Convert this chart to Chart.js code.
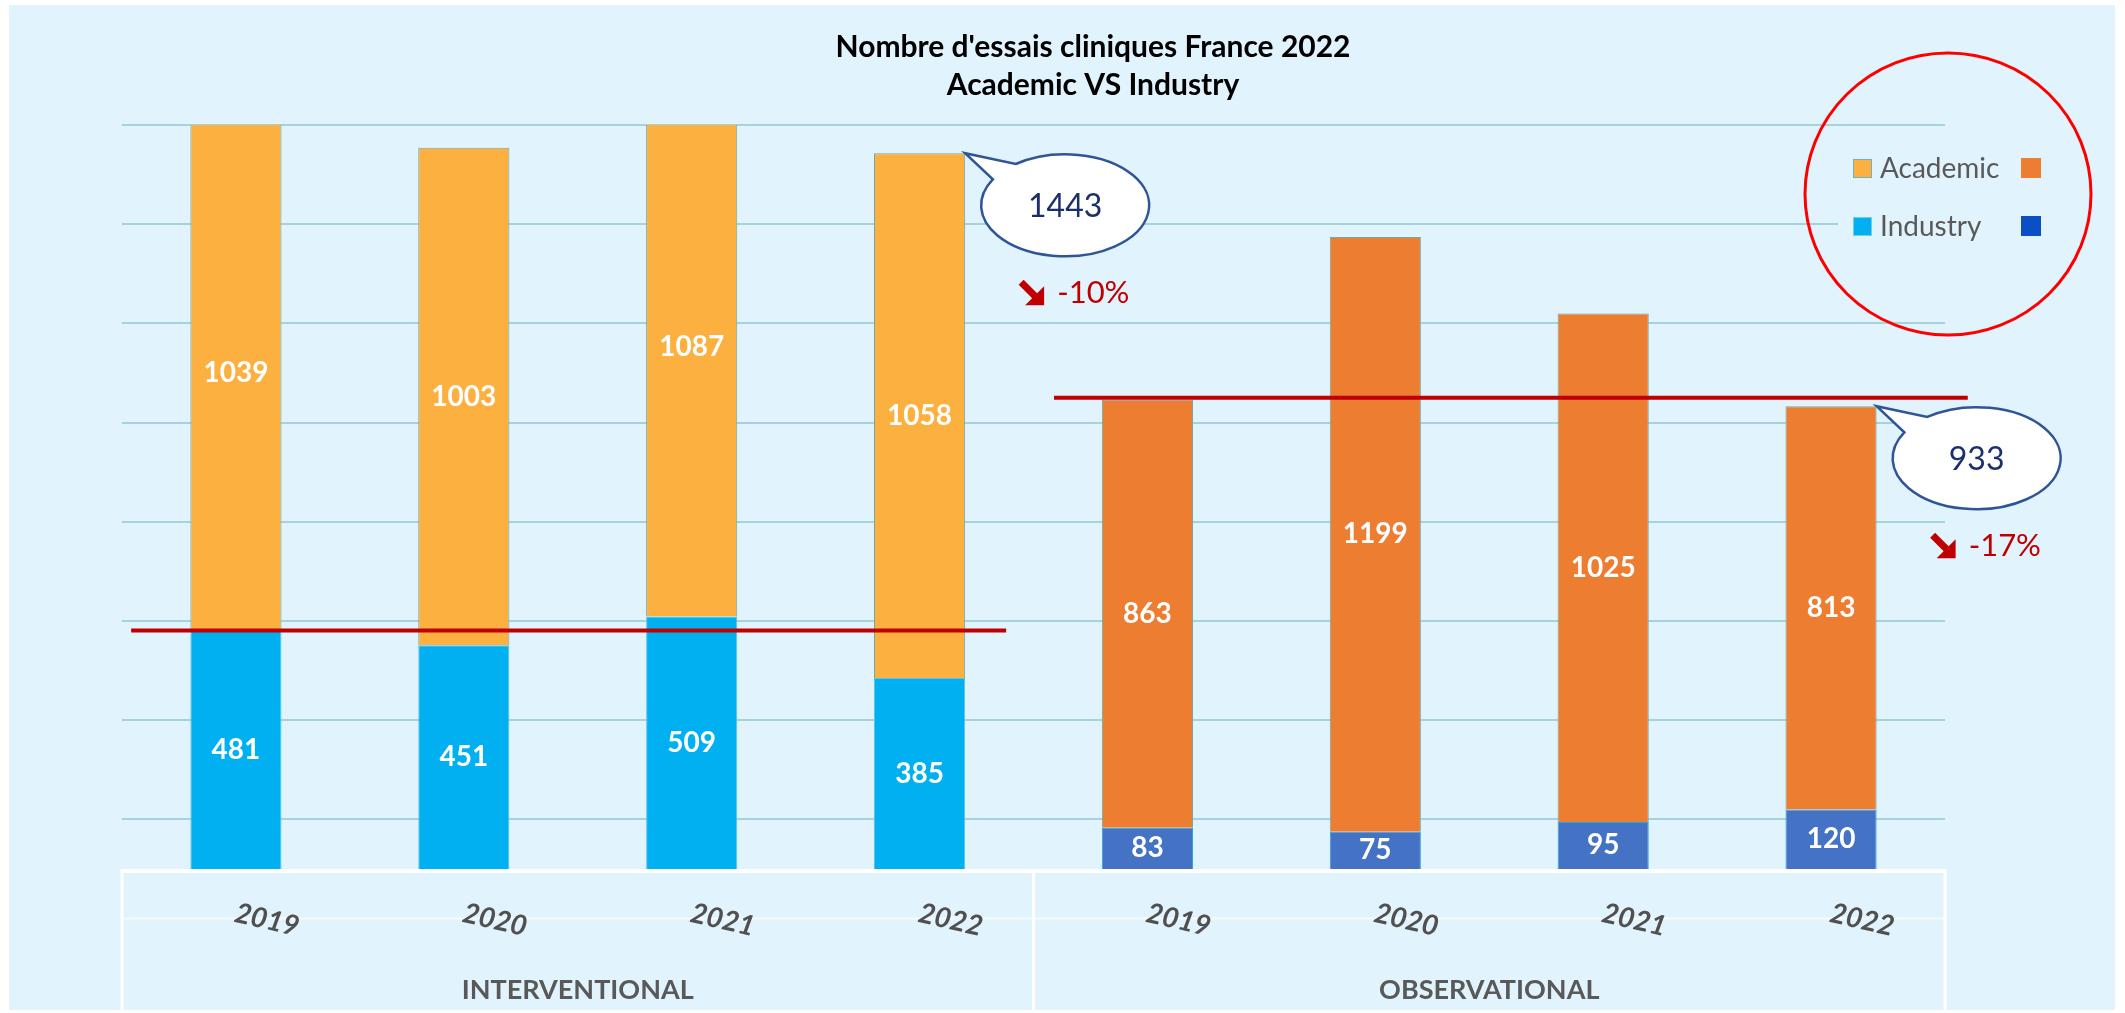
<!DOCTYPE html>
<html>
<head>
<meta charset="utf-8">
<script src="https://cdn.jsdelivr.net/npm/chart.js@4.4.0/dist/chart.umd.min.js"></script>
<style>
  html, body { margin: 0; padding: 0; background: #fff; }
  canvas { display: block; }
</style>
</head>
<body>
<canvas id="chart" width="2125" height="1013"></canvas>
<script>
// =====================
// DATA
// =====================
const years = ['2019', '2020', '2021', '2022'];
const groups = ['INTERVENTIONAL', 'OBSERVATIONAL'];
const seriesNames = ['Academic', 'Industry'];

const industryInterv = [481, 451, 509, 385];
const academicInterv = [1039, 1003, 1087, 1058];
const industryObs = [83, 75, 95, 120];
const academicObs = [863, 1199, 1025, 813];

const gridValues = [100, 300, 500, 700, 900, 1100, 1300, 1500];

// colours
const BG = '#E1F3FC';
const YELLOW = '#FBB040';
const ORANGE = '#ED7D31';
const CYAN = '#00B0F0';
const BLUE = '#4472C4';
const LEGEND_BLUE = '#0B4FC6';
const GREY = '#595959';
const NAVY = '#1B2F6B';
const DARKRED = '#C00000';
const FONT = 'Lato, "Open Sans", sans-serif';

const labels = years.concat(years);
const industry = industryInterv.concat(industryObs);
const academic = academicInterv.concat(academicObs);

// =====================
// PLUGINS
// =====================
const background = {
  id: 'background',
  beforeDraw(chart) {
    const ctx = chart.ctx;
    ctx.save();
    ctx.fillStyle = '#fff';
    ctx.fillRect(0, 0, chart.width, chart.height);
    ctx.fillStyle = BG;
    ctx.fillRect(9, 5, chart.width - 19, chart.height - 8);
    ctx.restore();
  }
};

function drawArrow(ctx, x, y) {
  ctx.save();
  ctx.fillStyle = DARKRED;
  ctx.strokeStyle = DARKRED;
  ctx.lineWidth = 7;
  ctx.beginPath();
  ctx.moveTo(x + 3, y + 3);
  ctx.lineTo(x + 18, y + 18);
  ctx.stroke();
  ctx.beginPath();
  ctx.moveTo(x + 26, y + 26);
  ctx.lineTo(x + 26, y + 7);
  ctx.lineTo(x + 7, y + 26);
  ctx.closePath();
  ctx.fill();
  ctx.restore();
}

function drawCallout(ctx, ax, ay, text, change) {
  const cx = ax + 100, cy = ay + 52;
  const rx = 84, ry = 51;
  ctx.save();
  ctx.fillStyle = '#fff';
  ctx.strokeStyle = '#2F5597';
  ctx.lineWidth = 2.5;
  // bubble with tail
  const a1 = Math.PI * 1.17, a2 = Math.PI * 1.30;
  ctx.beginPath();
  ctx.ellipse(cx, cy, rx, ry, 0, a2, a1 + Math.PI * 2);
  ctx.lineTo(ax, ay);
  ctx.closePath();
  ctx.fill();
  ctx.stroke();

  ctx.fillStyle = NAVY;
  ctx.font = '32px ' + FONT;
  ctx.textAlign = 'center';
  ctx.textBaseline = 'middle';
  ctx.fillText(text, cx, cy + 1);

  drawArrow(ctx, cx - 47, cy + 74);
  ctx.fillStyle = DARKRED;
  ctx.font = '31px ' + FONT;
  ctx.textAlign = 'left';
  ctx.textBaseline = 'alphabetic';
  ctx.fillText(change, cx - 8, cy + 98);
  ctx.restore();
}

const overlay = {
  id: 'overlay',
  afterDatasetsDraw(chart) {
    const ctx = chart.ctx;
    const x = chart.scales.x, y = chart.scales.y;
    const area = chart.chartArea;
    const step = x.getPixelForValue(1) - x.getPixelForValue(0);
    const metaInd = chart.getDatasetMeta(0);
    const metaAca = chart.getDatasetMeta(1);

    // data labels
    ctx.save();
    ctx.fillStyle = '#fff';
    ctx.font = 'bold 28px ' + FONT;
    ctx.textAlign = 'center';
    ctx.textBaseline = 'middle';
    [metaInd, metaAca].forEach((meta, d) => {
      meta.data.forEach((bar, i) => {
        const v = chart.data.datasets[d].data[i];
        ctx.fillText(String(v), bar.x, (bar.y + bar.base) / 2);
      });
    });
    ctx.restore();

    // 2019 reference lines
    const lvlInterv = industryInterv[0];
    const lvlObs = industryObs[0] + academicObs[0];
    ctx.save();
    ctx.strokeStyle = DARKRED;
    ctx.lineWidth = 4;
    ctx.beginPath();
    ctx.moveTo(x.getPixelForValue(0) - step * 0.46, y.getPixelForValue(lvlInterv));
    ctx.lineTo(x.getPixelForValue(3) + step * 0.38, y.getPixelForValue(lvlInterv));
    ctx.moveTo(x.getPixelForValue(4) - step * 0.41, y.getPixelForValue(lvlObs) - 2);
    ctx.lineTo(x.getPixelForValue(7) + step * 0.6, y.getPixelForValue(lvlObs) - 2);
    ctx.stroke();
    ctx.restore();

    // callouts on the 2022 bars
    [3, 7].forEach(i => {
      const bar = metaAca.data[i];
      const total = industry[i] + academic[i];
      const prev = industry[i - 1] + academic[i - 1];
      const pct = Math.round((total - prev) / prev * 100);
      drawCallout(ctx, bar.x + bar.width / 2, bar.y, String(total), pct + '%');
    });

    // category table under the plot
    ctx.save();
    ctx.strokeStyle = 'rgba(255,255,255,0.7)';
    ctx.lineWidth = 2;
    ctx.beginPath();
    ctx.moveTo(area.left, y.getPixelForValue(-100));
    ctx.lineTo(area.right, y.getPixelForValue(-100));
    ctx.stroke();
    ctx.strokeStyle = '#fff';
    ctx.lineWidth = 4;
    ctx.beginPath();
    ctx.moveTo(area.left, area.bottom + 2);
    ctx.lineTo(area.right, area.bottom + 2);
    ctx.stroke();
    ctx.lineWidth = 3;
    const mid = (x.getPixelForValue(3) + x.getPixelForValue(4)) / 2;
    [area.left, mid, area.right].forEach(px => {
      ctx.beginPath();
      ctx.moveTo(px, area.bottom);
      ctx.lineTo(px, 1010);
      ctx.stroke();
    });

    ctx.fillStyle = '#505050';
    ctx.font = 'italic bold 28px ' + FONT;
    ctx.textAlign = 'center';
    ctx.textBaseline = 'middle';
    labels.forEach((lab, i) => {
      ctx.save();
      ctx.translate(x.getPixelForValue(i) + 31, area.bottom + 51);
      ctx.rotate(13 * Math.PI / 180);
      ctx.fillText(lab, 0, 0);
      ctx.restore();
    });

    ctx.fillStyle = GREY;
    ctx.font = 'bold 27px ' + FONT;
    ctx.fillText(groups[0], (area.left + mid) / 2, area.bottom + 121);
    ctx.fillText(groups[1], (mid + area.right) / 2, area.bottom + 121);
    ctx.restore();
  },
  afterDraw(chart) {
    const ctx = chart.ctx;
    ctx.save();
    // title
    ctx.fillStyle = '#000';
    ctx.font = 'bold 30px ' + FONT;
    ctx.textAlign = 'center';
    ctx.textBaseline = 'alphabetic';
    ctx.fillText("Nombre d'essais cliniques France 2022", 1093, 57);
    ctx.fillText('Academic VS Industry', 1093, 95);

    // legend
    ctx.fillStyle = BG;
    ctx.fillRect(1838, 150, 225, 105);
    const swatches = [[YELLOW, ORANGE], [CYAN, LEGEND_BLUE]];
    ctx.font = '28px ' + FONT;
    ctx.textAlign = 'left';
    seriesNames.forEach((name, i) => {
      const top = 159 + i * 58;
      ctx.fillStyle = swatches[i][0];
      ctx.fillRect(1853, top, 19, 19);
      ctx.strokeStyle = i === 0 ? '#6DB3C0' : '#7CC8E8';
      ctx.lineWidth = 1;
      ctx.strokeRect(1853.5, top + 0.5, 18, 18);
      ctx.fillStyle = swatches[i][1];
      ctx.fillRect(2021, top - 1, 20, 20);
      ctx.fillStyle = GREY;
      ctx.fillText(name, 1880, top + 19);
    });

    // red circle
    ctx.strokeStyle = '#FF0000';
    ctx.lineWidth = 3;
    ctx.beginPath();
    ctx.ellipse(1948, 194, 143, 141, 0, 0, Math.PI * 2);
    ctx.stroke();
    ctx.restore();
  }
};

// =====================
// CHART
// =====================
new Chart(document.getElementById('chart'), {
  type: 'bar',
  data: {
    labels,
    datasets: [
      {
        label: seriesNames[1],
        data: industry,
        backgroundColor: industry.map((_, i) => i < 4 ? CYAN : BLUE),
        borderColor: industry.map((_, i) => i < 4 ? '#5EC3E0' : '#2FA3D6'),
        borderWidth: 1,
        categoryPercentage: 1,
        barPercentage: 0.4
      },
      {
        label: seriesNames[0],
        data: academic,
        backgroundColor: academic.map((_, i) => i < 4 ? YELLOW : ORANGE),
        borderColor: '#6FAAA5',
        borderWidth: 1,
        categoryPercentage: 1,
        barPercentage: 0.4
      }
    ]
  },
  options: {
    responsive: false,
    animation: false,
    layout: { padding: { left: 122, right: 180, top: 125, bottom: 144 } },
    plugins: {
      legend: { display: false },
      title: { display: false },
      tooltip: { enabled: false }
    },
    scales: {
      x: {
        display: false,
        stacked: true
      },
      y: {
        stacked: true,
        min: 0,
        max: 1500,
        afterBuildTicks: scale => {
          scale.ticks = gridValues.map(v => ({ value: v }));
        },
        ticks: { display: false },
        border: { display: false },
        grid: { color: '#A6D2DE', lineWidth: 2, drawTicks: false }
      }
    }
  },
  plugins: [background, overlay]
});
</script>
</body>
</html>
